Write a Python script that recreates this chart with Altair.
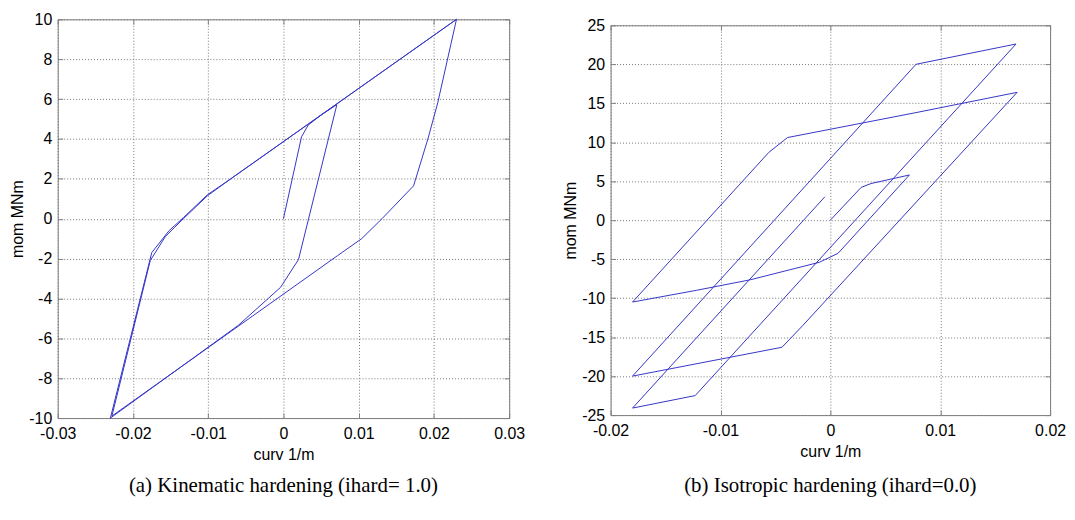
import altair as alt
import pandas as pd

# ---------------- data ----------------
# (a) Kinematic hardening: moment-curvature path
kin_curv = [0, 0.0024, 0.0033, 0.0050, 0.0071, 0.0020, -0.0004, -0.0060, -0.0230,
            -0.0175, -0.0152, -0.0133, -0.0101, -0.0070, 0.0230,
            0.0205, 0.0192, 0.0173, 0.0131, 0.0104, 0.0072, -0.0228,
            -0.0177, -0.0157, -0.0145, -0.0133, -0.0101, -0.0070, 0.0230]
kin_mom = [0, 4.1, 4.7, 5.2, 5.72, -2.05, -3.45, -5.35, -10.0,
           -1.7, -0.6, 0.05, 1.2, 2.0, 10.0,
           5.8, 4.0, 1.65, 0.0, -1.0, -1.85, -9.9,
           -2.1, -0.9, -0.45, 0.0, 1.15, 2.0, 10.0]

# (b) Isotropic hardening: moment-curvature path
iso_curv = [0, 0.0028, 0.0037, 0.0072, 0.0007, -0.0010, -0.0073, -0.0122, -0.0180,
            -0.0056, -0.0039, 0.0078, 0.0170, -0.0025, -0.0044, -0.0180,
            0.0078, 0.0169, -0.0123, -0.0180, -0.0005]
iso_mom = [0, 4.2, 4.7, 5.8, -4.25, -5.4, -7.65, -9.0, -10.5,
           8.7, 10.6, 13.8, 16.4, -13.5, -16.3, -20.0,
           20.0, 22.6, -22.5, -24.1, 3.0]

kin_x_ticks = [-0.03, -0.02, -0.01, 0, 0.01, 0.02, 0.03]
kin_y_ticks = [-10, -8, -6, -4, -2, 0, 2, 4, 6, 8, 10]
iso_x_ticks = [-0.02, -0.01, 0, 0.01, 0.02]
iso_y_ticks = [-25, -20, -15, -10, -5, 0, 5, 10, 15, 20, 25]

x_title = "curv 1/m"
y_title = "mom MNm"
captions = ["(a) Kinematic hardening (ihard= 1.0)",
            "(b) Isotropic hardening (ihard=0.0)"]

LINE_COLOR = "#3535c8"
FRAME = "#808080"
LBL = "datum.value < 0 ? '-' + format(-datum.value, '~g') : format(datum.value, '~g')"


def panel(curv, mom, xt, yt, w, h, caption, cap_offset):
    df = pd.DataFrame({"i": list(range(len(curv))), "curv": curv, "mom": mom})
    xs = alt.Scale(domain=[xt[0], xt[-1]], nice=False, zero=False)
    ys = alt.Scale(domain=[yt[0], yt[-1]], nice=False, zero=False)

    main = alt.Chart(df).mark_line(color=LINE_COLOR, strokeWidth=1).encode(
        x=alt.X("curv:Q", scale=xs,
                axis=alt.Axis(orient="bottom", values=xt, labelExpr=LBL, title=x_title,
                              offset=-5, tickSize=5, domain=False, grid=True,
                              labelPadding=8, titlePadding=5,
                              labelFlush=False, labelOverlap=False)),
        y=alt.Y("mom:Q", scale=ys,
                axis=alt.Axis(orient="left", values=yt, labelExpr=LBL, title=y_title,
                              offset=-5, tickSize=5, domain=False, grid=True,
                              labelPadding=6, titlePadding=3,
                              labelFlush=False, labelOverlap=False)),
        order="i:Q",
    )
    ghost = alt.Chart(df).mark_line(strokeOpacity=0).encode(
        x=alt.X("curv:Q", scale=xs,
                axis=alt.Axis(orient="top", values=xt, labels=False, title=None,
                              offset=-5, tickSize=5, domain=False, grid=False)),
        y=alt.Y("mom:Q", scale=ys,
                axis=alt.Axis(orient="right", values=yt, labels=False, title=None,
                              offset=-5, tickSize=5, domain=False, grid=False)),
        order="i:Q",
    )
    return alt.layer(main, ghost).resolve_axis(x="independent", y="independent").properties(
        width=w, height=h,
        title=alt.TitleParams(caption, orient="bottom", anchor="middle", frame="group",
                              font="Liberation Serif", fontSize=21, fontWeight="normal",
                              color="black", offset=cap_offset),
    )


left = panel(kin_curv, kin_mom, kin_x_ticks, kin_y_ticks, 454, 401, captions[0], 12)
right = panel(iso_curv, iso_mom, iso_x_ticks, iso_y_ticks, 442, 392, captions[1], 15)

# invisible spacer that lowers panel (b) a few pixels, as in the reference
spacer = alt.Chart(pd.DataFrame({"s": [0]})).mark_point(opacity=0).encode(
    x=alt.value(0), y=alt.value(0)
).properties(width=442, height=1, view=alt.ViewBackground(strokeOpacity=0))

right_col = alt.vconcat(spacer, right, spacing=5, bounds="flush")

chart = alt.hconcat(left, right_col, spacing=36).properties(
    padding={"left": 1, "top": 1, "right": 0, "bottom": 0}
).configure(
    font="Liberation Sans",
).configure_view(
    stroke=FRAME, strokeWidth=1
).configure_axis(
    labelFont="Liberation Sans", titleFont="Liberation Sans",
    labelFontSize=16, titleFontSize=16, labelColor="black", titleColor="black",
    titleFontWeight="normal", tickColor=FRAME, gridColor="#787878",
    gridDash=[1, 2], gridOpacity=1, gridWidth=1,
)

chart.save("out.html", embed_options={"renderer": "svg", "actions": False})
